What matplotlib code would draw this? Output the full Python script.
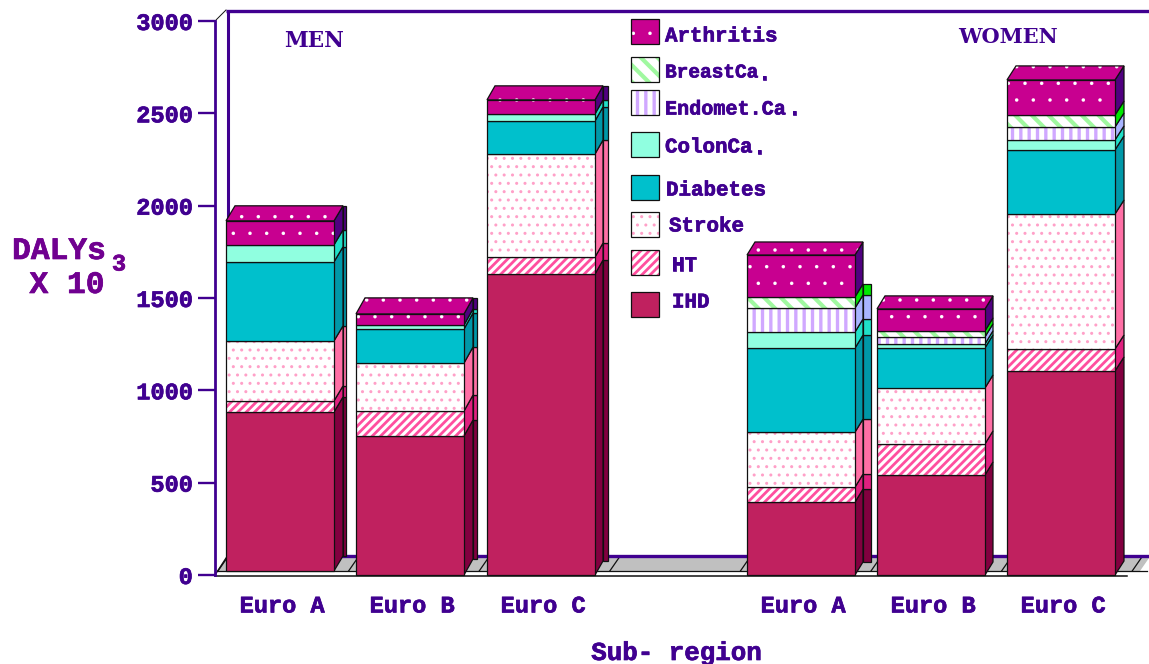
"""Stacked pseudo-3D bars of DALYs by sub-region, men and women."""

import matplotlib as mpl
from matplotlib import patheffects, pyplot as plt
from matplotlib.patches import Polygon

categories = ["Euro A", "Euro B", "Euro C", "Euro A", "Euro B", "Euro C"]
causes = ["IHD", "HT", "Stroke", "Diabetes", "ColonCa.", "Endomet.Ca.", "BreastCa.", "Arthritis"]

ihd = [861, 753, 1630, 395, 542, 1105]
ht = [60, 135, 92, 81, 168, 119]
stroke = [325, 260, 558, 298, 303, 731]
diabetes = [428, 184, 179, 455, 217, 347]
colon = [92, 22, 38, 87, 22, 54]
endomet = [0, 0, 0, 130, 38, 70]
breast = [0, 0, 0, 60, 32, 65]
arthritis = [130, 60, 76, 227, 119, 190]
base_values = [22, 0, 0, 0, 0, 0]
y_ticks = [0, 500, 1000, 1500, 2000, 2500, 3000]

series = [ihd, ht, stroke, diabetes, colon, endomet, breast, arthritis]

# layout, in pixels of the 1149x664 picture
BAR_LEFT = [226, 356, 487, 747, 877, 1007]
BAR_WIDTH = 108
DEPTH_X = [9, 9, 8, 8, 8, 9]
DEPTH_Y = [15, 16, 14, 13, 13, 14]
SLIVER = [3, 4, 5, 8, 0, 0]
SLIVER_LAYERS = [8, 8, 8, 7, 0, 0]
PX = 3000 / 554

TEXT_COLOR = "#400090"
LABEL_COLOR = "#700090"
FONT = "Liberation Mono"
HEAVY = [patheffects.withStroke(linewidth=0.5, foreground=TEXT_COLOR)]
HEAVY_LABEL = [patheffects.withStroke(linewidth=0.5, foreground=LABEL_COLOR)]
TEXT_STYLE = {"color": TEXT_COLOR, "family": FONT, "weight": "bold", "path_effects": HEAVY}
LABEL_STYLE = {"color": LABEL_COLOR, "family": FONT, "weight": "bold", "path_effects": HEAVY_LABEL}

# face, hatch, hatch colour, hatch width, side colour
STYLES = [
    ("#c0215f", None, None, 1.0, "#82003f"),
    ("#ffffff", "////", "#ff4f9f", 2.0, "#e0207f"),
    ("#ffffff", "..", "#ffa0c8", 1.0, "#ff6fa5"),
    ("#00c0cc", None, None, 1.0, "#0098a8"),
    ("#90ffe0", None, None, 1.0, "#20e0c8"),
    ("#ffffff", "||", "#d0a8ff", 2.4, "#a8b4ff"),
    ("#ffffff", "\\\\", "#a0f8a0", 3.0, "#00e800"),
    ("#c80090", ".", "#ffffff", 0.1, "#500080"),
]

LEGEND_ROWS = [
    (7, 19, "Arthritis", 665, 36, 15),
    (6, 57, "BreastCa", 665, 73, 14),
    (5, 90, "Endomet.Ca", 665, 109, 14.5),
    (4, 132, "ColonCa", 665, 147, 15),
    (3, 175, "Diabetes", 666, 190, 15),
    (2, 212, "Stroke", 669, 226, 15),
    (1, 250, "HT", 672, 265, 15),
    (0, 292, "IHD", 672, 302, 15),
]
LEGEND_DOTS = [(758, 74), (788, 109), (753, 148)]


def draw_face(ax, points, style, outline="#101010"):
    """Draw one polygon with its fill, hatch and outline."""
    face, hatch, hatch_color, hatch_width, _ = style
    if hatch is None:
        ax.add_patch(Polygon(points, facecolor=face, edgecolor="none", linewidth=0, clip_on=False))
    else:
        with mpl.rc_context({"hatch.linewidth": hatch_width}):
            ax.add_patch(
                Polygon(points, facecolor=face, edgecolor=hatch_color, hatch=hatch, linewidth=0, clip_on=False)
            )
    ax.add_patch(Polygon(points, fill=False, edgecolor=outline, linewidth=0.9, clip_on=False))


def draw_side(ax, x, low, high, dx, dy, color):
    """Draw the slanted right side of one bar segment."""
    points = [(x, low), (x + dx, low + dy), (x + dx, high + dy), (x, high)]
    ax.add_patch(Polygon(points, facecolor=color, edgecolor="#101010", linewidth=0.9, clip_on=False))


def draw_bar(ax, index):
    """Draw one stacked bar from the bottom segment up."""
    left = BAR_LEFT[index]
    right = left + BAR_WIDTH
    dx = DEPTH_X[index]
    dy = DEPTH_Y[index] * PX
    bottom = base_values[index]
    top_style = None
    for layer, values in enumerate(series):
        height = values[index]
        if height == 0:
            continue
        top = bottom + height
        style = STYLES[layer]
        if layer < SLIVER_LAYERS[index]:
            draw_side(ax, right + dx, bottom + dy, top + dy, SLIVER[index], 0, style[4])
        draw_side(ax, right, bottom, top, dx, dy, style[4])
        face = [(left, bottom), (right, bottom), (right, top), (left, top)]
        draw_face(ax, face, style)
        bottom = top
        top_style = style
    lid = [(left, bottom), (right, bottom), (right + dx, bottom + dy), (left + dx, bottom + dy)]
    draw_face(ax, lid, top_style)


def draw_backdrop(back):
    """Draw the wall frame, floor, legend and titles in picture pixels."""
    back.add_patch(Polygon([(217, 571), (226, 558), (1149, 558), (1140, 571)], facecolor="#c0c0c0", edgecolor="none"))
    for k in range(8):
        start = 218 + 130.6 * k
        back.plot([start, start + 9], [571, 558], color="#101010", lw=0.9)
    back.plot([217, 1147], [571, 571], color="#101010", lw=0.9)
    back.plot([215, 1127], [575.5, 575.5], color="#101010", lw=1.1)
    back.plot([215, 226], [575, 558], color="#101010", lw=0.9)
    back.plot([215, 226], [21, 10], color="#101010", lw=0.7)
    back.plot([227.5, 227.5], [10, 557], color=TEXT_COLOR, lw=2.2, solid_capstyle="butt")
    back.plot([226, 1149], [10.5, 10.5], color=TEXT_COLOR, lw=2.4, solid_capstyle="butt")
    back.plot([227, 1149], [556, 556], color=TEXT_COLOR, lw=2.4, solid_capstyle="butt")

    for layer, swatch_y, label, text_x, text_y, size in LEGEND_ROWS:
        x0, x1, y0, y1 = 631, 659, swatch_y, swatch_y + 25
        draw_face(back, [(x0, y0), (x1, y0), (x1, y1), (x0, y1)], STYLES[layer])
        back.text(text_x, text_y, label, **TEXT_STYLE, fontsize=size, ha="left", va="center")
    for dot_x, dot_y in LEGEND_DOTS:
        back.text(dot_x, dot_y, ".", **TEXT_STYLE, fontsize=15, ha="left", va="center")

    title_style = {"color": TEXT_COLOR, "family": "DejaVu Serif", "weight": "bold"}
    back.text(314.5, 41, "MEN", **title_style, fontsize=15.5, ha="center", va="center")
    back.text(1007.5, 37, "WOMEN", **title_style, fontsize=15, ha="center", va="center")
    back.text(676.5, 653, "Sub- region", **TEXT_STYLE, fontsize=18.6, ha="center", va="center")
    back.text(59, 251, "DALYs", **LABEL_STYLE, fontsize=22.5, ha="center", va="center")
    back.text(67, 285, "X 10", **LABEL_STYLE, fontsize=22.5, ha="center", va="center")
    back.text(119, 264, "3", **LABEL_STYLE, fontsize=17, ha="center", va="center")


def main():
    """Build the figure and save it."""
    fig = plt.figure(figsize=(11.49, 6.64), dpi=100)

    back = fig.add_axes([0, 0, 1, 1], zorder=0)
    back.set_xlim(0, 1149)
    back.set_ylim(664, 0)
    back.axis("off")
    draw_backdrop(back)

    ax = fig.add_axes([215 / 1149, 89 / 664, 934 / 1149, 554 / 664], zorder=1)
    ax.patch.set_alpha(0)
    ax.set_xlim(215, 1149)
    ax.set_ylim(0, 3000)
    for name in ("top", "right", "bottom"):
        ax.spines[name].set_visible(False)
    ax.spines["left"].set_color(TEXT_COLOR)
    ax.spines["left"].set_linewidth(2.0)

    for index in range(len(categories)):
        draw_bar(ax, index)

    ax.set_yticks(y_ticks)
    ax.tick_params(axis="y", length=12, width=1.7, color=TEXT_COLOR, pad=4)
    ax.set_xticks([left + BAR_WIDTH / 2 + 2 for left in BAR_LEFT])
    ax.set_xticklabels(categories)
    ax.tick_params(axis="x", length=0, pad=14)
    for label in ax.get_xticklabels() + ax.get_yticklabels():
        label.set(color=TEXT_COLOR, family=FONT, weight="bold", fontsize=17, path_effects=HEAVY)

    fig.savefig("out.png", dpi=100)
    plt.close(fig)


if __name__ == "__main__":
    main()
